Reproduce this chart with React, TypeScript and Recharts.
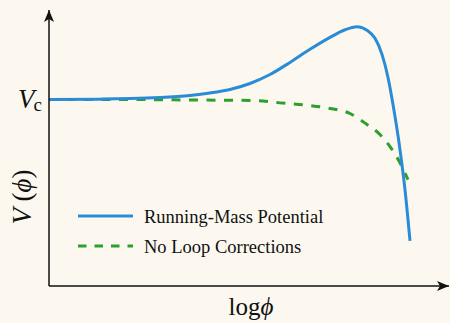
import { Label, Legend, Line, LineChart, XAxis, YAxis } from 'recharts'

// log(phi) samples, in arbitrary units across the axis
const logPhiRunning = [0, 1.275, 2.025, 2.775, 3.525, 4.025, 4.525, 5.025, 5.525, 6.025, 6.525, 7.025, 7.4, 7.7, 7.95, 8.15, 8.325, 8.475, 8.6, 8.775, 8.9, 9.025]
// V / V_c for the running-mass potential
const vRunning = [1.0, 1.002, 1.005, 1.011, 1.022, 1.035, 1.054, 1.086, 1.134, 1.199, 1.269, 1.333, 1.374, 1.39, 1.371, 1.328, 1.242, 1.118, 0.973, 0.731, 0.516, 0.242]

const logPhiTree = [0, 2.025, 3.775, 5.1, 5.775, 6.525, 7.025, 7.525, 7.95, 8.275, 8.525, 8.775, 8.975]
// V / V_c without loop corrections
const vTree = [1.0, 1.0, 0.997, 0.995, 0.982, 0.968, 0.952, 0.925, 0.866, 0.812, 0.747, 0.661, 0.57]

const yTicks = [1]
const seriesNames = ['Running-Mass Potential', 'No Loop Corrections']

const runningData = logPhiRunning.map((x, i) => ({ x, v: vRunning[i] }))
const treeData = logPhiTree.map((x, i) => ({ x, v: vTree[i] }))

const BLUE = '#2a8bd6'
const GREEN = '#2ca02c'
const INK = '#111111'
const serif = { fontFamily: 'Liberation Serif, Times New Roman, DejaVu Serif, serif' }

const VcTick = (props: any) => {
  const { y } = props
  return (
    <text x={18} y={y + 8} fill={INK} style={serif} fontSize={27}>
      <tspan fontStyle='italic'>V</tspan>
      <tspan fontSize={19} dy={3} dx={-1}>c</tspan>
    </text>
  )
}

const YTitle = () => (
  <text
    x={22}
    y={197}
    transform='rotate(-90, 22, 197)'
    textAnchor='middle'
    dominantBaseline='central'
    fill={INK}
    style={serif}
    fontSize={27}
  >
    <tspan fontStyle='italic'>V</tspan>
    <tspan> (</tspan>
    <tspan fontStyle='italic'>ϕ</tspan>
    <tspan>)</tspan>
  </text>
)

const XTitle = (props: any) => {
  const { viewBox } = props
  return (
    <text
      x={viewBox.x + viewBox.width / 2 + 2}
      y={315}
      textAnchor='middle'
      fill={INK}
      style={serif}
      fontSize={25}
    >
      <tspan>log</tspan>
      <tspan fontStyle='italic'>ϕ</tspan>
    </text>
  )
}

const LegendBox = () => (
  <svg width={260} height={62} style={{ display: 'block' }}>
    <line x1={0} x2={55} y1={16} y2={16} stroke={BLUE} strokeWidth={3} />
    <text x={66} y={23} fill={INK} style={serif} fontSize={18.5}>
      {seriesNames[0]}
    </text>
    <line x1={0} x2={55} y1={46} y2={46} stroke={GREEN} strokeWidth={3} strokeDasharray='8.5 8' />
    <text x={66} y={53} fill={INK} style={serif} fontSize={18.5}>
      {seriesNames[1]}
    </text>
  </svg>
)

export default function App() {
  return (
    <div style={{ position: 'absolute', left: 0, top: 0, width: 450, height: 323, background: '#fcf8f0' }}>
      <LineChart width={450} height={323} margin={{ top: 10, right: 1, bottom: 0, left: 0 }}>
        <defs>
          <marker
            id='axis-arrow'
            viewBox='0 0 12 10'
            refX={12}
            refY={5}
            markerWidth={12}
            markerHeight={10}
            markerUnits='userSpaceOnUse'
            orient='auto-start-reverse'
          >
            <path d='M0,0 L12,5 L0,10 L3,5 Z' fill={INK} />
          </marker>
        </defs>
        <XAxis
          type='number'
          dataKey='x'
          domain={[0, 10]}
          allowDataOverflow
          height={37}
          tick={false}
          tickLine={false}
          axisLine={{ stroke: INK, strokeWidth: 1.5, markerEnd: 'url(#axis-arrow)' }}
        >
          <Label content={<XTitle />} />
        </XAxis>
        <YAxis
          type='number'
          domain={[0, 1.48]}
          allowDataOverflow
          width={49}
          ticks={yTicks}
          tick={<VcTick />}
          tickLine={false}
          axisLine={{ stroke: INK, strokeWidth: 1.5, markerStart: 'url(#axis-arrow)' }}
        >
          <Label content={<YTitle />} />
        </YAxis>
        <Legend
          layout='vertical'
          align='center'
          verticalAlign='middle'
          content={<LegendBox />}
          wrapperStyle={{ left: 78, top: 200, width: 260 }}
        />
        <Line
          data={treeData}
          dataKey='v'
          type='monotone'
          stroke={GREEN}
          strokeWidth={3}
          strokeDasharray='9 8.5'
          dot={false}
          isAnimationActive={false}
        />
        <Line
          data={runningData}
          dataKey='v'
          type='monotone'
          stroke={BLUE}
          strokeWidth={3}
          dot={false}
          isAnimationActive={false}
        />
      </LineChart>
    </div>
  )
}
